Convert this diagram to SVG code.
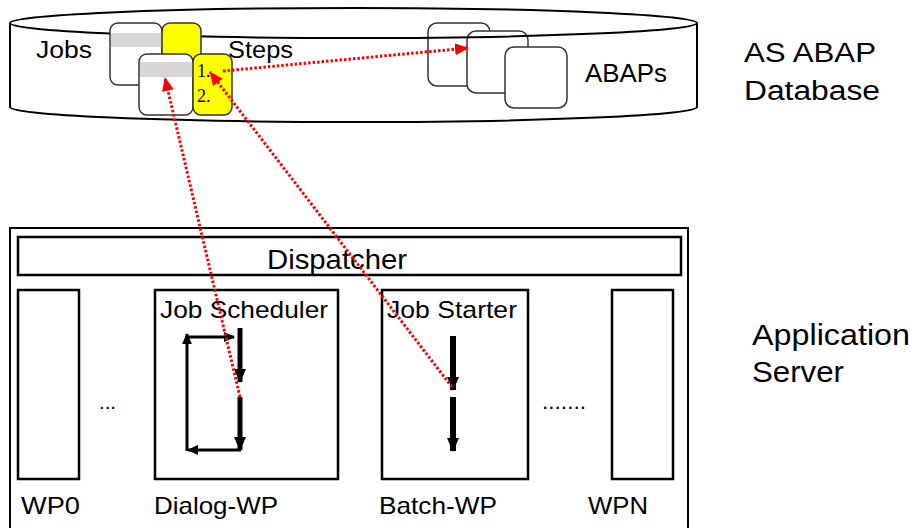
<svg xmlns="http://www.w3.org/2000/svg" width="911" height="528" viewBox="0 0 911 528">
<style>
text{font-family:"Liberation Sans",Arial,sans-serif;fill:#000}
.card{fill:#fff;stroke:#333;stroke-width:1.5}
.ycard{fill:#ffff00;stroke:#333;stroke-width:1.5}
.band{fill:#d6d6d6}
.box{fill:#fff;stroke:#000;stroke-width:2.5}
.red{fill:none;stroke:#ff0000;stroke-width:3;stroke-dasharray:2.5 2}
.blk{stroke:#000;fill:none}
</style>
<defs>
<marker id="rh" markerUnits="userSpaceOnUse" markerWidth="14" markerHeight="12" refX="13" refY="6" orient="auto">
<path d="M0,0 L14,6 L0,12 Z" fill="#ff0000"/>
</marker>
<marker id="bh" markerUnits="userSpaceOnUse" markerWidth="14" markerHeight="12" refX="13" refY="6" orient="auto">
<path d="M0,0 L14,6 L0,12 Z" fill="#000"/>
</marker>
<marker id="bs" markerUnits="userSpaceOnUse" markerWidth="11" markerHeight="10" refX="10" refY="5" orient="auto">
<path d="M0,0 L11,5 L0,10 Z" fill="#000"/>
</marker>
</defs>

<g id="database">
<path d="M10,23 A343.5,15 0 0 1 697,23 L697,107 A343.5,15 0 0 1 10,107 Z" fill="#fff" stroke="#000" stroke-width="2"/>
<g id="abaps">
<rect class="card" x="428" y="23" width="62" height="63" rx="9"/>
<rect class="card" x="467" y="31" width="61" height="62" rx="9"/>
<rect class="card" x="505" y="47" width="62" height="61" rx="9"/>
</g>
<path d="M10,23 A343.5,15 0 0 0 697,23" fill="none" stroke="#000" stroke-width="2"/>
<text x="36" y="58" font-size="23" textLength="56" lengthAdjust="spacingAndGlyphs">Jobs</text>
<text x="228" y="58" font-size="23" textLength="65" lengthAdjust="spacingAndGlyphs">Steps</text>
<text x="585" y="82" font-size="25" textLength="82" lengthAdjust="spacingAndGlyphs">ABAPs</text>
<g id="jobs">
<rect class="card" x="110" y="23" width="52" height="62" rx="8"/>
<rect class="band" x="111" y="33" width="51" height="14"/>
<rect class="ycard" x="162" y="23" width="39" height="50" rx="8"/>
<rect class="card" x="139" y="54" width="54" height="61" rx="8"/>
<rect class="band" x="140" y="62" width="53" height="15"/>
<rect class="ycard" x="193" y="54" width="39" height="61" rx="8"/>
<text x="197" y="77" font-size="18" style="font-family:'Liberation Serif','Times New Roman',serif">1.</text>
<text x="197" y="102" font-size="18" style="font-family:'Liberation Serif','Times New Roman',serif">2.</text>
</g>
</g>

<g id="labels-right">
<text x="744" y="62" font-size="27" textLength="132" lengthAdjust="spacingAndGlyphs">AS ABAP</text>
<text x="744" y="100" font-size="27" textLength="136" lengthAdjust="spacingAndGlyphs">Database</text>
<text x="752" y="345" font-size="30" textLength="158" lengthAdjust="spacingAndGlyphs">Application</text>
<text x="752" y="382" font-size="30" textLength="92" lengthAdjust="spacingAndGlyphs">Server</text>
</g>

<g id="appserver">
<rect x="10" y="228" width="678" height="320" fill="#fff" stroke="#000" stroke-width="2"/>
</g>
<g id="dispatcher">
<rect class="box" x="18" y="237" width="663" height="38"/>
<text x="267" y="269" font-size="28" textLength="140" lengthAdjust="spacingAndGlyphs">Dispatcher</text>
</g>
<g id="wp0">
<rect class="box" x="18" y="290" width="61" height="189"/>
<text x="21" y="514" font-size="24" textLength="59" lengthAdjust="spacingAndGlyphs">WP0</text>
</g>
<g id="dialog-wp">
<rect class="box" x="155" y="290" width="183" height="189"/>
<text x="160" y="318" font-size="24" textLength="168" lengthAdjust="spacingAndGlyphs">Job Scheduler</text>
<text x="154" y="514" font-size="24" textLength="124" lengthAdjust="spacingAndGlyphs">Dialog-WP</text>
<line class="blk" x1="240" y1="328" x2="240" y2="382" stroke-width="5" marker-end="url(#bh)"/>
<line class="blk" x1="240" y1="397" x2="240" y2="450" stroke-width="5" marker-end="url(#bh)"/>
<line class="blk" x1="241" y1="450" x2="188" y2="450" stroke-width="3" marker-end="url(#bs)"/>
<line class="blk" x1="187" y1="451" x2="187" y2="334" stroke-width="3" marker-end="url(#bs)"/>
<line class="blk" x1="186" y1="337" x2="234" y2="337" stroke-width="3" marker-end="url(#bs)"/>
</g>
<g id="batch-wp">
<rect class="box" x="382" y="290" width="146" height="189"/>
<text x="387" y="318" font-size="24" textLength="130" lengthAdjust="spacingAndGlyphs">Job Starter</text>
<text x="379" y="514" font-size="24" textLength="118" lengthAdjust="spacingAndGlyphs">Batch-WP</text>
<line class="blk" x1="453" y1="336" x2="453" y2="390" stroke-width="6" marker-end="url(#bh)"/>
<line class="blk" x1="453" y1="397" x2="453" y2="451" stroke-width="6" marker-end="url(#bh)"/>
</g>
<g id="wpn">
<rect class="box" x="612" y="290" width="61" height="189"/>
<text x="588" y="514" font-size="24" textLength="60" lengthAdjust="spacingAndGlyphs">WPN</text>
</g>
<text x="99" y="409" font-size="20" textLength="17" lengthAdjust="spacingAndGlyphs">...</text>
<text x="542" y="409" font-size="22" textLength="44" lengthAdjust="spacingAndGlyphs">.......</text>

<g id="connectors">
<line class="red" x1="223" y1="71" x2="468" y2="48" marker-end="url(#rh)"/>
<line class="red" x1="240" y1="397" x2="165" y2="78" marker-end="url(#rh)"/>
<line class="red" x1="452" y1="387" x2="210" y2="72" marker-end="url(#rh)"/>
</g>
</svg>
